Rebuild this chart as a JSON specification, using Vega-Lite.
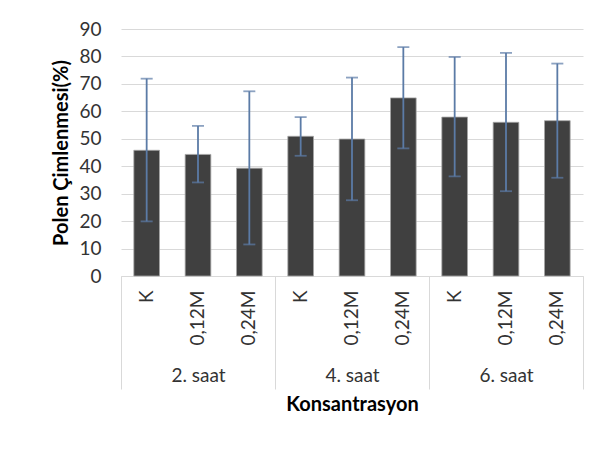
{
  "$schema": "https://vega.github.io/schema/vega-lite/v6.json",
  "width": 462,
  "height": 247,
  "autosize": {"type": "none"},
  "padding": {"left": 121, "top": 29, "right": 28, "bottom": 177},
  "background": "white",
  "config": {
    "font": "Lato",
    "view": {"stroke": null},
    "axisY": {
      "titleFontSize": 20, "titleFontWeight": "bold", "titleColor": "#000000",
      "labelOverlap": false, "grid": true, "gridColor": "#d9d9d9", "gridWidth": 1.2,
      "domain": false, "ticks": false, "labelPadding": 20, "labelFontSize": 19,
      "labelColor": "#333333", "titlePadding": 7
    }
  },
  "data": {
    "values": [
      {"key": "2. saat|K", "g": "2. saat", "c": "K", "v": 45.8, "lo": 19.9, "hi": 71.9},
      {"key": "2. saat|0,12M", "g": "2. saat", "c": "0,12M", "v": 44.3, "lo": 34.1, "hi": 54.7},
      {"key": "2. saat|0,24M", "g": "2. saat", "c": "0,24M", "v": 39.3, "lo": 11.5, "hi": 67.3},
      {"key": "4. saat|K", "g": "4. saat", "c": "K", "v": 50.9, "lo": 43.8, "hi": 57.9},
      {"key": "4. saat|0,12M", "g": "4. saat", "c": "0,12M", "v": 49.9, "lo": 27.6, "hi": 72.3},
      {"key": "4. saat|0,24M", "g": "4. saat", "c": "0,24M", "v": 64.9, "lo": 46.5, "hi": 83.4},
      {"key": "6. saat|K", "g": "6. saat", "c": "K", "v": 57.9, "lo": 36.3, "hi": 79.8},
      {"key": "6. saat|0,12M", "g": "6. saat", "c": "0,12M", "v": 56.0, "lo": 30.9, "hi": 81.3},
      {"key": "6. saat|0,24M", "g": "6. saat", "c": "0,24M", "v": 56.6, "lo": 35.8, "hi": 77.4}
    ]
  },
  "layer": [
    {
      "layer": [
        {
          "mark": {"type": "bar", "color": "#404040", "stroke": "#a6a6a6", "strokeWidth": 0.8},
          "encoding": {
            "x": {
              "field": "key", "type": "nominal", "sort": null,
              "scale": {"paddingInner": 0.5, "paddingOuter": 0.25},
              "axis": {
                "orient": "bottom",
                "title": null, "labelAngle": 270, "labelAlign": "right", "labelBaseline": "middle",
                "labelPadding": 14, "ticks": false, "domainColor": "#d9d9d9", "domainWidth": 1,
                "labelFontSize": 19, "labelColor": "#333333", "grid": false, "labelOverlap": false,
                "labelExpr": "split(datum.label, '|')[1]"
              }
            },
            "y": {
              "field": "v", "type": "quantitative",
              "scale": {"domain": [0, 90], "nice": false},
              "axis": {"title": "Polen Çimlenmesi(%)", "values": [0, 10, 20, 30, 40, 50, 60, 70, 80, 90]}
            }
          }
        },
        {
          "mark": {"type": "rule", "color": "#5b7ba6", "strokeWidth": 1.8},
          "encoding": {
            "x": {"field": "key", "type": "nominal", "sort": null},
            "y": {"field": "lo", "type": "quantitative", "axis": {"title": "Polen Çimlenmesi(%)", "values": [0, 10, 20, 30, 40, 50, 60, 70, 80, 90]}},
            "y2": {"field": "hi"}
          }
        },
        {
          "mark": {"type": "tick", "color": "#5b7ba6", "thickness": 1.8, "size": 12},
          "encoding": {
            "x": {"field": "key", "type": "nominal", "sort": null},
            "y": {"field": "hi", "type": "quantitative", "axis": {"title": "Polen Çimlenmesi(%)", "values": [0, 10, 20, 30, 40, 50, 60, 70, 80, 90]}}
          }
        },
        {
          "mark": {"type": "tick", "color": "#5b7ba6", "thickness": 1.8, "size": 12},
          "encoding": {
            "x": {"field": "key", "type": "nominal", "sort": null},
            "y": {"field": "lo", "type": "quantitative", "axis": {"title": "Polen Çimlenmesi(%)", "values": [0, 10, 20, 30, 40, 50, 60, 70, 80, 90]}}
          }
        }
      ]
    },
    {
      "mark": {"type": "rule", "opacity": 0},
      "encoding": {
        "x": {
          "field": "g", "type": "nominal",
          "scale": {"paddingInner": 0, "paddingOuter": 0},
          "axis": {
            "orient": "bottom",
            "title": "Konsantrasyon", "titleFontSize": 20, "titleFontWeight": "bold", "titleColor": "#000000",
            "domain": false, "ticks": true, "tickBand": "extent", "tickSize": 113, "tickColor": "#d9d9d9", "tickWidth": 1,
            "labelFontSize": 19, "labelColor": "#333333", "labelPadding": -23, "labelAngle": 0, "labelBaseline": "top",
            "grid": false, "titlePadding": 5
          }
        }
      }
    }
  ],
  "resolve": {"scale": {"x": "independent"}, "axis": {"x": "independent"}}
}
